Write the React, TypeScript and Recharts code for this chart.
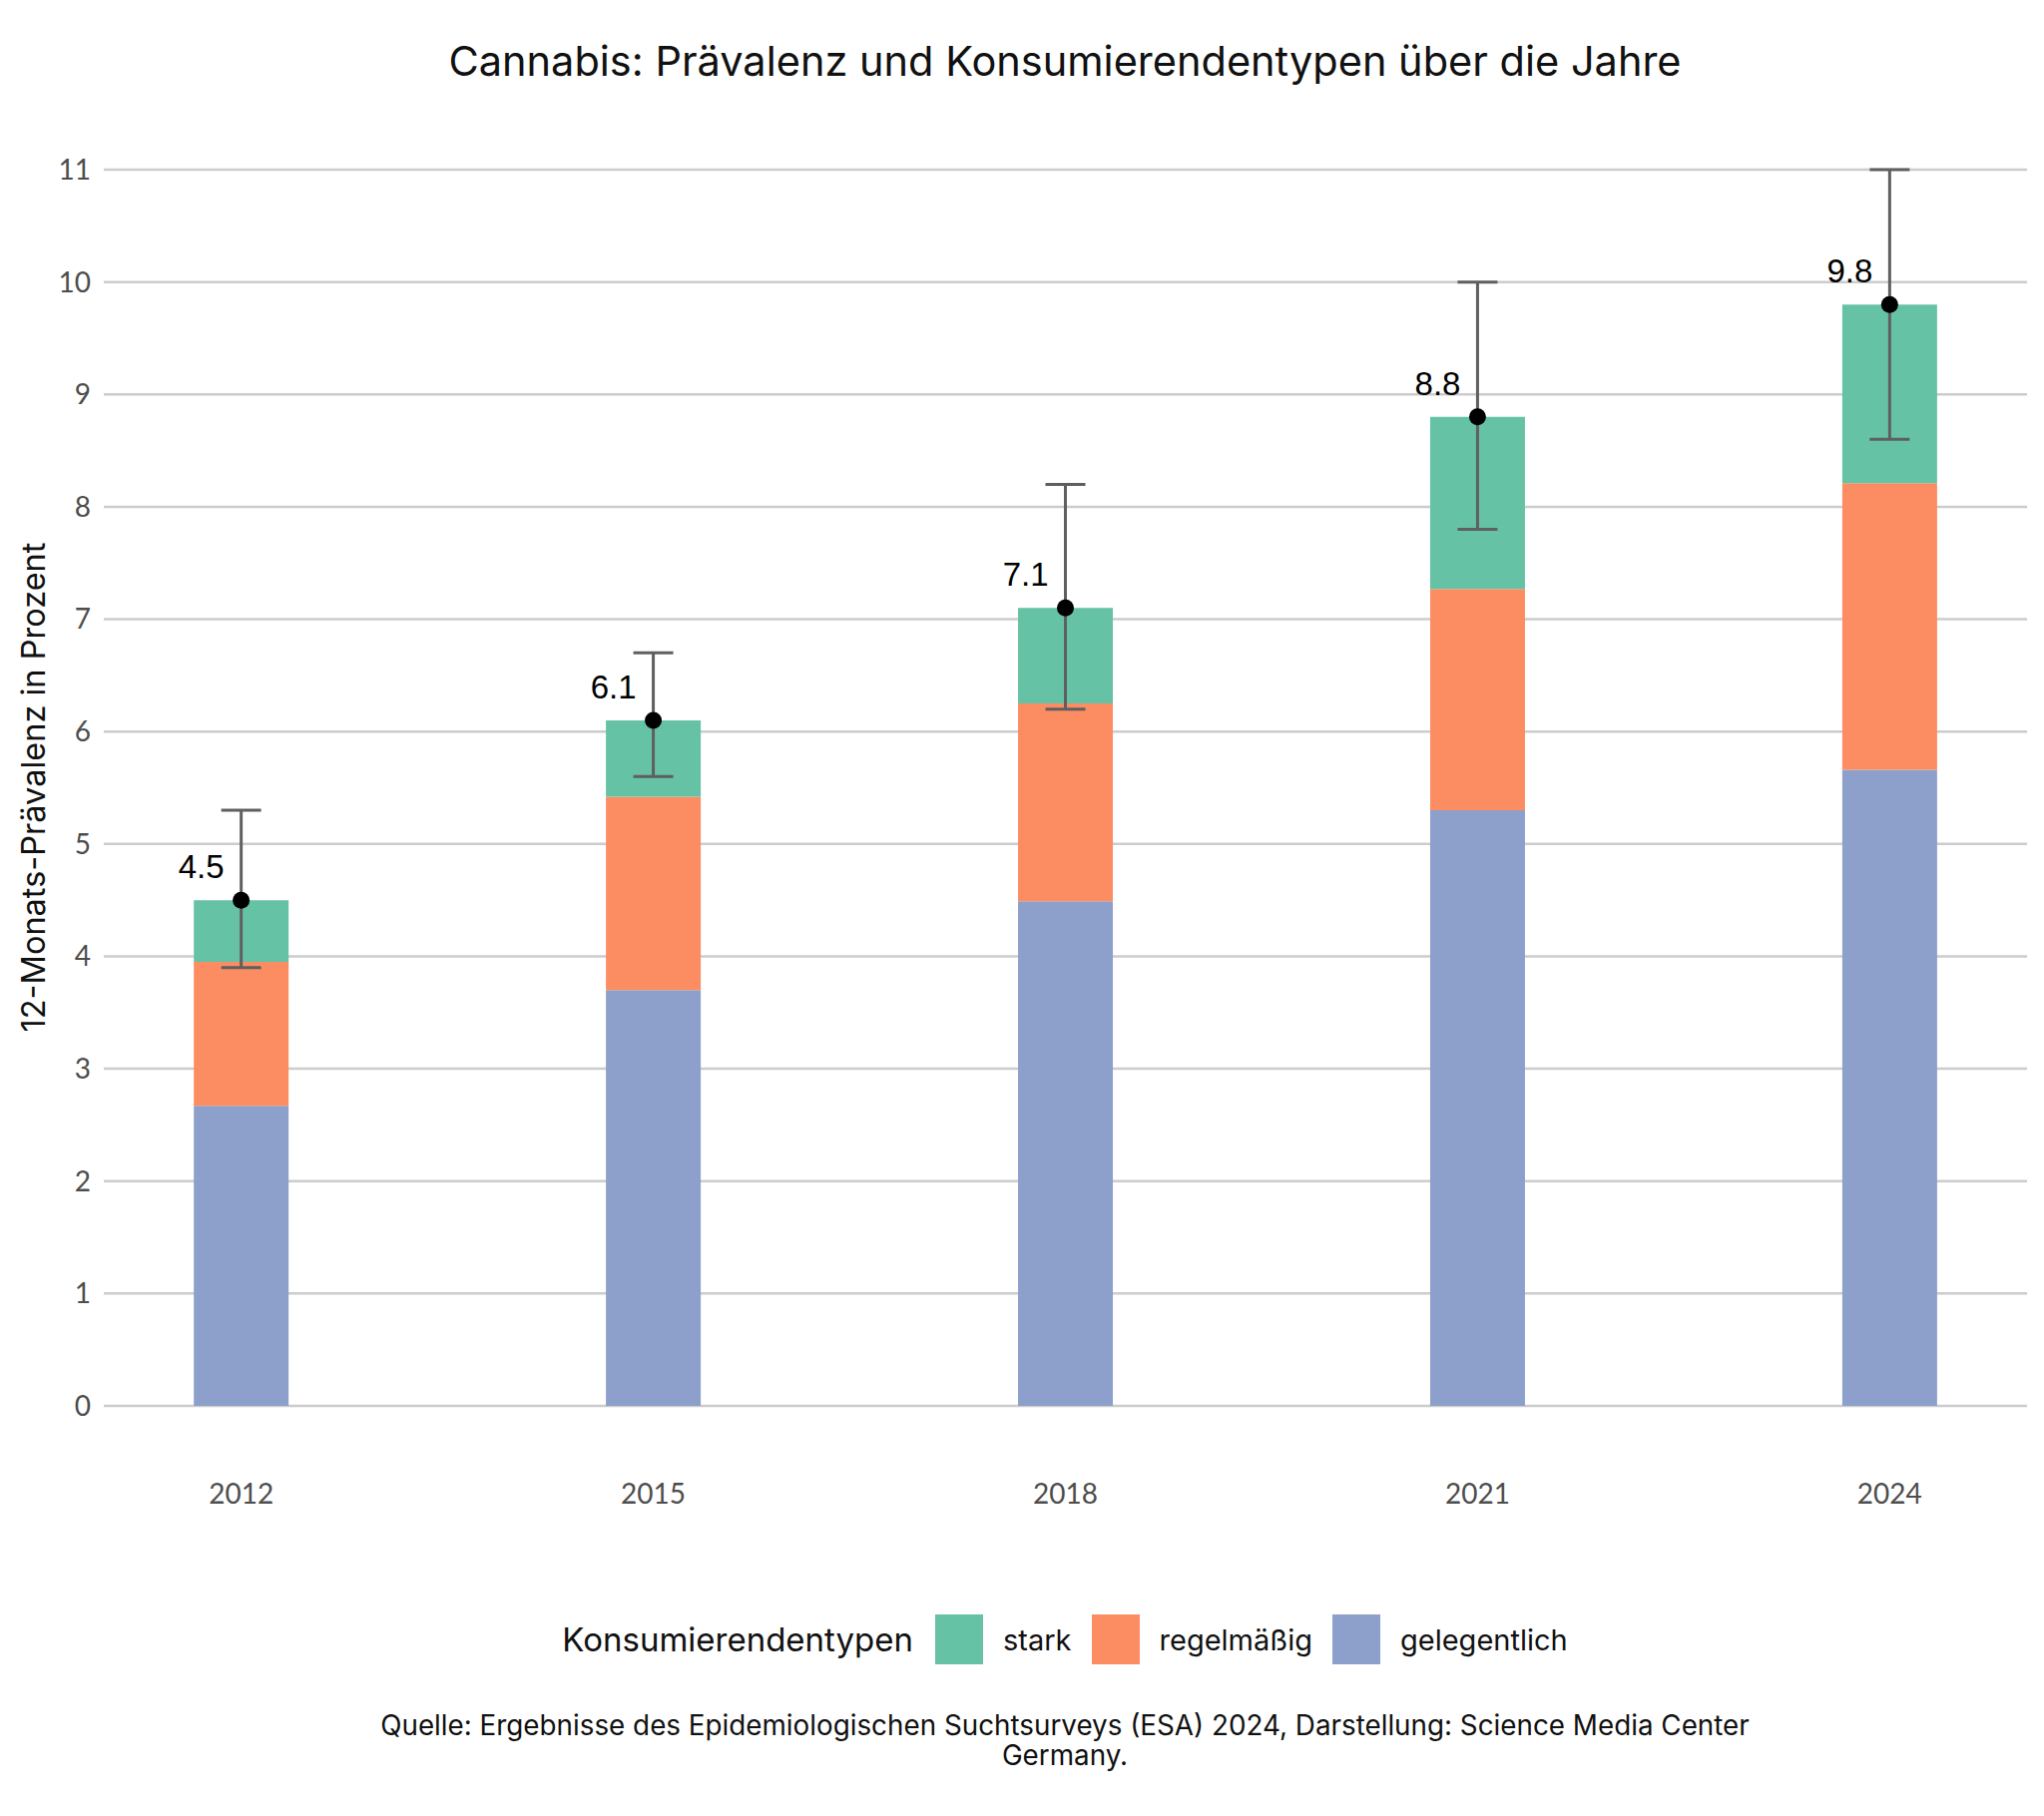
import { ComposedChart, Bar, Line, XAxis, YAxis, CartesianGrid, ErrorBar, LabelList } from 'recharts';

const YEARS = [2012, 2015, 2018, 2021, 2024];
const GELEGENTLICH = [2.67, 3.7, 4.49, 5.3, 5.66];
const REGELMAESSIG = [1.28, 1.72, 1.76, 1.97, 2.55];
const STARK = [0.55, 0.68, 0.85, 1.53, 1.59];
const TOTAL = [4.5, 6.1, 7.1, 8.8, 9.8];
const CI_LOW = [3.9, 5.6, 6.2, 7.8, 8.6];
const CI_HIGH = [5.3, 6.7, 8.2, 10.0, 11.0];
const Y_TICKS = [0, 1, 2, 3, 4, 5, 6, 7, 8, 9, 10, 11];

const SERIES = [
  { key: 'gelegentlich', label: 'gelegentlich', color: '#8DA0CB' },
  { key: 'regelmaessig', label: 'regelmäßig', color: '#FC8D62' },
  { key: 'stark', label: 'stark', color: '#66C2A5' },
];

const TICK_FONT = 'Lato, "Open Sans", sans-serif';
const TEXT_FONT = 'Inter, "Open Sans", sans-serif';

const data = YEARS.map((year, i) => ({
  year,
  gelegentlich: GELEGENTLICH[i],
  regelmaessig: REGELMAESSIG[i],
  stark: STARK[i],
  total: TOTAL[i],
  err: [TOTAL[i] - CI_LOW[i], CI_HIGH[i] - TOTAL[i]],
}));

const ValueLabel = (props: any) => {
  const { x, y, value } = props;
  return (
    <text
      x={x - 17}
      y={y - 22}
      textAnchor="end"
      fontFamily='"Liberation Sans", Arial, sans-serif'
      fontSize={33}
      fill="#000"
    >
      {Number(value).toFixed(1)}
    </text>
  );
};

export default function App() {
  const legendItems = [...SERIES].reverse();
  return (
    <div style={{ position: 'absolute', left: 0, top: 0, width: 2048, height: 1820, background: '#fff', fontFamily: TEXT_FONT }}>
      <div
        style={{
          position: 'absolute', left: 0, top: 36, width: 2134, textAlign: 'center',
          fontSize: 41.5, lineHeight: '50px', color: '#111',
        }}
      >
        Cannabis: Prävalenz und Konsumierendentypen über die Jahre
      </div>

      <div
        style={{
          position: 'absolute', left: 33, top: 789, transform: 'translate(-50%, -50%) rotate(-90deg)',
          whiteSpace: 'nowrap', fontSize: 32.5, color: '#111',
        }}
      >
        12-Monats-Prävalenz in Prozent
      </div>

      <ComposedChart
        width={2048}
        height={1820}
        data={data}
        margin={{ top: 170, right: 17, bottom: 311, left: 0 }}
        style={{ position: 'absolute', left: 0, top: 0 }}
      >
        <CartesianGrid vertical={false} stroke="#cccccc" strokeWidth={2.5} />
        <XAxis
          dataKey="year"
          type="number"
          domain={[2011, 2025]}
          ticks={YEARS}
          axisLine={false}
          tickLine={false}
          tickSize={0}
          tickMargin={78}
          height={100}
          tick={{ fontSize: 28, fill: '#4d4d4d', fontFamily: TICK_FONT }}
        />
        <YAxis
          type="number"
          domain={[0, 11]}
          ticks={Y_TICKS}
          interval={0}
          axisLine={false}
          tickLine={false}
          tickSize={0}
          tickMargin={13}
          width={104}
          tick={{ fontSize: 28, fill: '#4d4d4d', fontFamily: TICK_FONT }}
        />
        {SERIES.map((s) => (
          <Bar key={s.key} dataKey={s.key} stackId="a" fill={s.color} barSize={95} isAnimationActive={false} />
        ))}
        <Line
          dataKey="total"
          stroke="none"
          dot={{ r: 8.5, fill: '#000', stroke: 'none' }}
          activeDot={false}
          isAnimationActive={false}
        >
          <ErrorBar dataKey="err" width={20} stroke="#5f5f5f" strokeWidth={3} direction="y" />
          <LabelList dataKey="total" content={ValueLabel} />
        </Line>
      </ComposedChart>

      <div
        style={{
          position: 'absolute', left: 0, top: 1618, width: 2134, height: 50,
          display: 'flex', justifyContent: 'center', alignItems: 'center',
        }}
      >
        <span style={{ fontSize: 33, color: '#111', marginRight: 22 }}>Konsumierendentypen</span>
        {legendItems.map((s, i) => (
          <span key={s.key} style={{ display: 'flex', alignItems: 'center', marginRight: i < legendItems.length - 1 ? 20 : 0 }}>
            <span style={{ display: 'inline-block', width: 48, height: 50, background: s.color, marginRight: 20 }} />
            <span style={{ fontSize: 29, color: '#111' }}>{s.label}</span>
          </span>
        ))}
      </div>

      <div
        style={{
          position: 'absolute', left: 0, top: 1714, width: 2134, textAlign: 'center',
          fontSize: 27.8, lineHeight: '30px', color: '#111',
        }}
      >
        Quelle: Ergebnisse des Epidemiologischen Suchtsurveys (ESA) 2024, Darstellung: Science Media Center
        <br />
        Germany.
      </div>
    </div>
  );
}
